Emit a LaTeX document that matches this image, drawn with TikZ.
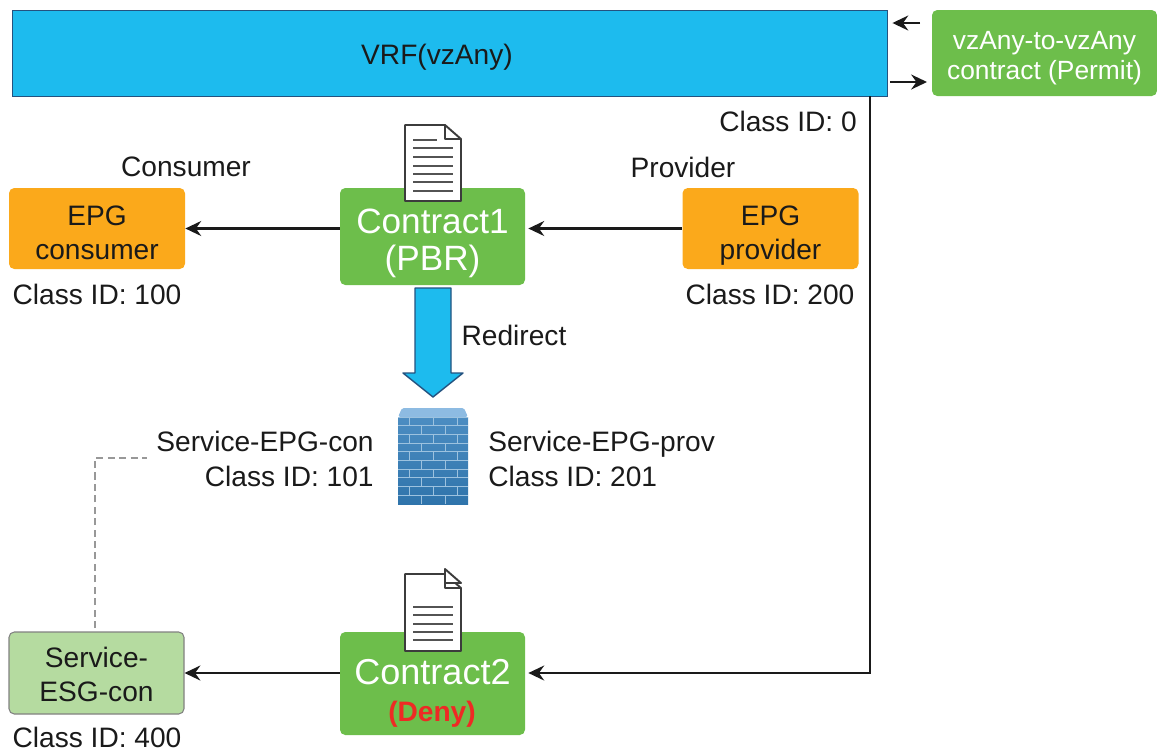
\documentclass[tikz,border=0pt]{standalone}
\usepackage{fontspec}
\setmainfont{Liberation Sans}
\usepackage{xcolor}
\definecolor{vrfblue}{HTML}{1DBBEE}
\definecolor{vrfedge}{HTML}{24527F}
\definecolor{leaf}{HTML}{6DBE4B}
\definecolor{amber}{HTML}{FBA91B}
\definecolor{paleleaf}{HTML}{B5DBA0}
\definecolor{ink}{HTML}{1A1A1A}
\definecolor{brickhigh}{HTML}{4C8DC2}
\definecolor{bricklow}{HTML}{2F74AB}
\definecolor{mortar}{HTML}{9CC2DF}
\definecolor{wallcap}{HTML}{8DBBE2}
\definecolor{denyred}{HTML}{EE2A24}
\usepackage{tikz}
\usetikzlibrary{arrows.meta, positioning, calc}

\tikzset{
  contractbox/.style={fill=leaf, rounded corners=3pt, inner sep=0pt, text=white, align=center},
  epgbox/.style={fill=amber, rounded corners=3pt, inner sep=0pt, text=ink, align=center,
    minimum width=176*0.2mm, minimum height=81*0.2mm, font=\fontsize{16}{19.3}\selectfont},
  caption/.style={text=ink, inner sep=0pt, font=\fontsize{16}{20.4}\selectfont},
  flow/.style={draw=ink, line width=1.4pt, -{Stealth[length=9pt, width=8.5pt, inset=3pt]}},
}

% sheet icon: left x, top y, bottom y, y values of the text rows
\newcommand{\docsheet}[4]{
  \draw[line width=1.1pt, draw=ink!85, fill=white, line join=round]
    (#1, #2) -- ++(40, 0) -- ++(16, 14) -- (#1+56, #3) -- (#1, #3) -- cycle;
  \draw[line width=1.1pt, draw=ink!85, line join=round] (#1+40, #2) -- ++(0, 14) -- ++(16, 0);
  \foreach \rowy in {#4} {
    \draw[line width=0.9pt, draw=ink!75] (#1+8, \rowy) -- (#1+48, \rowy);
  }
}

\begin{document}
\begin{tikzpicture}[x=0.2mm, y=-0.2mm]
  \useasboundingbox (0, 0) rectangle (1157, 751);

  % VRF bar and its contract
  \node[fill=vrfblue, draw=vrfedge, line width=0.5pt, minimum width=875*0.2mm, minimum height=86*0.2mm,
    inner sep=0pt] (vrf) at (449.5, 53) {};
  \node[text=ink, inner sep=0pt, font=\fontsize{16}{19}\selectfont] (vrflabel) at (437, 57) {VRF(vzAny)};
  \node[contractbox, minimum width=225*0.2mm, minimum height=86*0.2mm, font=\fontsize{15}{17}\selectfont]
    (anycontract) at (1044.5, 53) {\rule{0pt}{16.5pt}vzAny-to-vzAny\\contract (Permit)};
  \coordinate (anyin) at (932, 23);
  \coordinate (anyout) at (932, 82);
  \draw[flow] ($(anyin)+(-12, 0)$) -- ($(vrf.east |- anyin)+(5, 0)$);
  \draw[flow] ($(vrf.east |- anyout)+(3, 0)$) -- ($(anyout)+(-5, 0)$);
  \node[caption] (classzero) at (788, 121) {Class ID: 0};

  % Contract1 row
  \node[contractbox, minimum width=185*0.2mm, minimum height=97*0.2mm] (contractone) at (432.5, 236.5) {};
  \node[text=white, inner sep=0pt, align=center, font=\fontsize{20}{20.9}\selectfont]
    (contractonelabel) at (432.5, 243) {Contract1\\(PBR)};
  \docsheet{405}{125}{201}{148,157,166,174,182,191}
  \draw[line width=0.9pt, draw=ink!75] (413, 140) -- (437, 140);
  \node[epgbox] (epgcon) at (97, 228.5) {\rule{0pt}{19.5pt}EPG\\consumer\rule[-3.4pt]{0pt}{3.4pt}};
  \node[epgbox] (epgprov) at (770.5, 228.5) {\rule{0pt}{19.5pt}EPG\\provider\rule[-3.4pt]{0pt}{3.4pt}};
  \node[caption] (consumerlabel) at (186, 167) {Consumer};
  \node[caption] (providerlabel) at (683, 167) {Provider};
  \node[caption] (classcon) at (97, 294) {Class ID: 100};
  \node[caption] (classprov) at (770, 294) {Class ID: 200};
  \draw[flow] (contractone.west |- epgcon) -- (epgcon.east);
  \draw[flow] (epgprov.west) -- ($(contractone.east |- epgprov)+(3, 0)$);

  % Redirect arrow
  \draw[draw=vrfedge, line width=0.8pt, fill=vrfblue, line join=round]
    (415, 288) -- (451, 288) -- (451, 373) -- (463, 373) -- (433, 397) -- (403, 373) -- (415, 373) -- cycle;
  \node[caption] (redirectlabel) at (514, 335) {Redirect};

  % Firewall
  \fill[wallcap, rounded corners=1pt] (398, 417) -- (402, 408) -- (464, 408) -- (468, 417) -- cycle;
  \shade[top color=brickhigh, bottom color=bricklow] (398, 417) rectangle (468, 504);
  \foreach \rowno in {0,...,9} {
    \pgfmathsetmacro{\rowtop}{417 + 8.7*\rowno}
    \draw[mortar, line width=0.5pt] (398, \rowtop) -- (468, \rowtop);
    \ifodd\rowno
      \foreach \jointx in {421, 445} {
        \draw[mortar, line width=0.5pt] (\jointx, \rowtop) -- ++(0, 8.7);
      }
    \else
      \foreach \jointx in {409, 433, 457} {
        \draw[mortar, line width=0.5pt] (\jointx, \rowtop) -- ++(0, 8.7);
      }
    \fi
  }
  \node[caption, anchor=east, align=right] (svccon) at (374, 459) {Service-EPG-con\\Class ID: 101};
  \node[caption, anchor=west, align=left] (svcprov) at (488, 459) {Service-EPG-prov\\Class ID: 201};

  % Contract2 row
  \node[contractbox, minimum width=185*0.2mm, minimum height=103*0.2mm] (contracttwo) at (432.5, 683.5) {};
  \node[text=white, inner sep=0pt, font=\fontsize{20.5}{24}\selectfont] (contracttwolabel) at (432.5, 672) {Contract2};
  \node[text=denyred, inner sep=0pt, font=\fontsize{16}{19}\bfseries\selectfont] (denylabel) at (432, 714) {(Deny)};
  \docsheet{405}{574}{651}{607,615,624,632,640}
  \draw[line width=1.1pt, draw=ink!85, fill=white, line join=round] (445, 569) -- (461, 583) -- (445, 583) -- cycle;
  \node[epgbox, fill=paleleaf, draw=ink!55, line width=0.6pt, minimum width=175*0.2mm, minimum height=82*0.2mm]
    (esgcon) at (96.5, 673) {\rule{0pt}{13pt}Service-\\ESG-con};
  \node[caption] (classesg) at (97, 737) {Class ID: 400};
  \draw[flow] (contracttwo.west |- esgcon) -- (esgcon.east);

  % Class ID 0 drop into Contract2
  \coordinate (vrfdrop) at (870, 96);
  \draw[flow] (vrfdrop) |- ($(contracttwo.east |- esgcon)+(3, 0)$);

  % Dashed link up to the service EPG
  \coordinate (dashend) at (147, 458);
  \draw[draw=ink!45, line width=1.1pt, dash pattern=on 4pt off 2.5pt]
    (95, 628) -- (95, 458) -- (dashend);
\end{tikzpicture}
\end{document}
